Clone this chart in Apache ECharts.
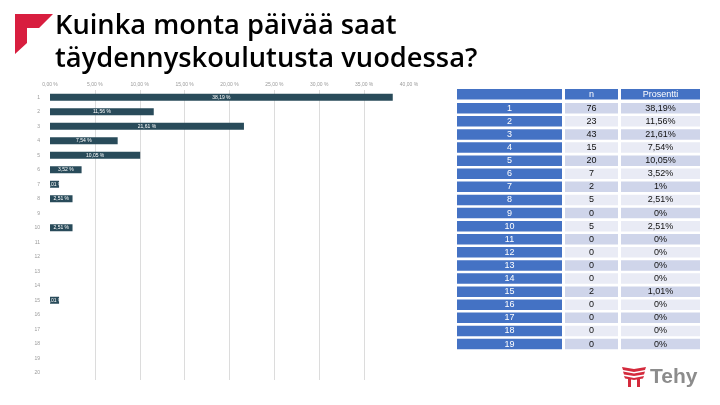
<!DOCTYPE html>
<html>
<head>
<meta charset="utf-8">
<script src="https://cdn.jsdelivr.net/npm/echarts@6/dist/echarts.min.js"></script>
<style>
html,body{margin:0;padding:0;background:#fff;}
#c{width:720px;height:405px;}
</style>
</head>
<body>
<div id="c"></div>
<script>
// ---- data ----
var titleLines = ['Kuinka monta päivää saat', 'täydennyskoulutusta vuodessa?'];
var chartCategories = ['1','2','3','4','5','6','7','8','9','10','11','12','13','14','15','16','17','18','19','20'];
var chartPercent = [38.19, 11.56, 21.61, 7.54, 10.05, 3.52, 1.01, 2.51, 0, 2.51, 0, 0, 0, 0, 1.01, 0, 0, 0, 0, 0];
var axisTicks = [0, 5, 10, 15, 20, 25, 30, 35, 40];
var tableHeader = ['', 'n', 'Prosentti'];
var tableDays = ['1','2','3','4','5','6','7','8','9','10','11','12','13','14','15','16','17','18','19'];
var tableN = [76, 23, 43, 15, 20, 7, 2, 5, 0, 5, 0, 0, 0, 0, 2, 0, 0, 0, 0];
var tablePct = ['38,19%','11,56%','21,61%','7,54%','10,05%','3,52%','1%','2,51%','0%','2,51%','0%','0%','0%','0%','1,01%','0%','0%','0%','0%'];

function fmtPct(v){ return v.toFixed(2).replace('.', ',') + ' %'; }

var chart = echarts.init(document.getElementById('c'), null, {renderer:'canvas'});

var graphics = [];
// red corner logo
graphics.push({type:'polygon', shape:{points:[[15,14],[53,14],[39,28],[27,28],[27,43],[15,54]]}, style:{fill:'#d81e3f'}});
// title
graphics.push({type:'text', x:55, y:26, style:{text:titleLines[0], font:'600 27.3px "Open Sans"', fill:'#000', verticalAlign:'middle'}});
graphics.push({type:'text', x:55, y:59, style:{text:titleLines[1], font:'600 27.3px "Open Sans"', fill:'#000', verticalAlign:'middle'}});

// table
var cols = [[457,562],[565,618],[621,700]];
var blue = '#4472c4', dark = '#cfd5ea', light = '#e9ebf5';
var headY = 89, rowH = 10.5, rowTop0 = 103, pitch = 13.1;
var tfont = '9px "Liberation Sans"';
for (var c=0;c<3;c++){
  graphics.push({type:'rect', shape:{x:cols[c][0], y:headY, width:cols[c][1]-cols[c][0], height:rowH}, style:{fill:blue}});
  if (tableHeader[c]) graphics.push({type:'text', x:(cols[c][0]+cols[c][1])/2, y:headY+rowH/2, style:{text:tableHeader[c], font:tfont, fill:'#fff', align:'center', verticalAlign:'middle'}});
}
for (var i=0;i<tableDays.length;i++){
  var y = rowTop0 + pitch*i;
  var bg = (i%2===0) ? dark : light;
  var vals = [tableDays[i], String(tableN[i]), tablePct[i]];
  for (var c2=0;c2<3;c2++){
    graphics.push({type:'rect', shape:{x:cols[c2][0], y:y, width:cols[c2][1]-cols[c2][0], height:rowH}, style:{fill: c2===0?blue:bg}});
    graphics.push({type:'text', x:(cols[c2][0]+cols[c2][1])/2, y:y+rowH/2, style:{text:vals[c2], font:tfont, fill:c2===0?'#fff':'#111', align:'center', verticalAlign:'middle'}});
  }
}

// Tehy logo
var red2 = '#d42a3c';
graphics.push({type:'polygon', shape:{points:[[622,367],[634,369],[646,367],[645,370],[634,372],[623,370]]}, style:{fill:red2}});
graphics.push({type:'polygon', shape:{points:[[623,371.5],[634,373.5],[645,371.5],[644,374.5],[634,376],[624,374.5]]}, style:{fill:red2}});
graphics.push({type:'polygon', shape:{points:[[624,376],[634,378],[644,376],[643,378.5],[634,380],[625,378.5]]}, style:{fill:red2}});
graphics.push({type:'rect', shape:{x:628, y:379, width:3, height:8}, style:{fill:red2}});
graphics.push({type:'rect', shape:{x:637, y:379, width:3, height:8}, style:{fill:red2}});
graphics.push({type:'text', x:650, y:377, style:{text:'Tehy', font:'bold 21px "Liberation Sans"', fill:'#8c8c8c', verticalAlign:'middle'}});

var gridColors = axisTicks.map(function(t, k){ return (k===0 || k===axisTicks.length-1) ? 'rgba(0,0,0,0)' : '#dcdcdc'; });

var option = {
  backgroundColor:'#fff',
  animation:false,
  grid:{left:50, top:90, width:359, height:290, containLabel:false},
  xAxis:{
    type:'value', position:'top', min:axisTicks[0], max:axisTicks[axisTicks.length-1], interval:axisTicks[1]-axisTicks[0],
    axisLine:{show:false}, axisTick:{show:false},
    axisLabel:{fontSize:5, color:'#9a9a9a', margin:3, formatter:function(v){return fmtPct(v);}},
    splitLine:{show:true, lineStyle:{color:gridColors, width:1}}
  },
  yAxis:{
    type:'category', data:chartCategories, inverse:true,
    axisLine:{show:false}, axisTick:{show:false},
    axisLabel:{fontSize:5, color:'#9a9a9a', margin:10}
  },
  series:[{
    type:'bar', data:chartPercent, barWidth:7,
    itemStyle:{color:'#294b5a'},
    label:{show:true, position:'inside', fontSize:5, color:'#fff',
      formatter:function(p){ return p.value>0 ? fmtPct(p.value) : ''; }}
  }],
  graphic:graphics
};
chart.setOption(option);
</script>
</body>
</html>
